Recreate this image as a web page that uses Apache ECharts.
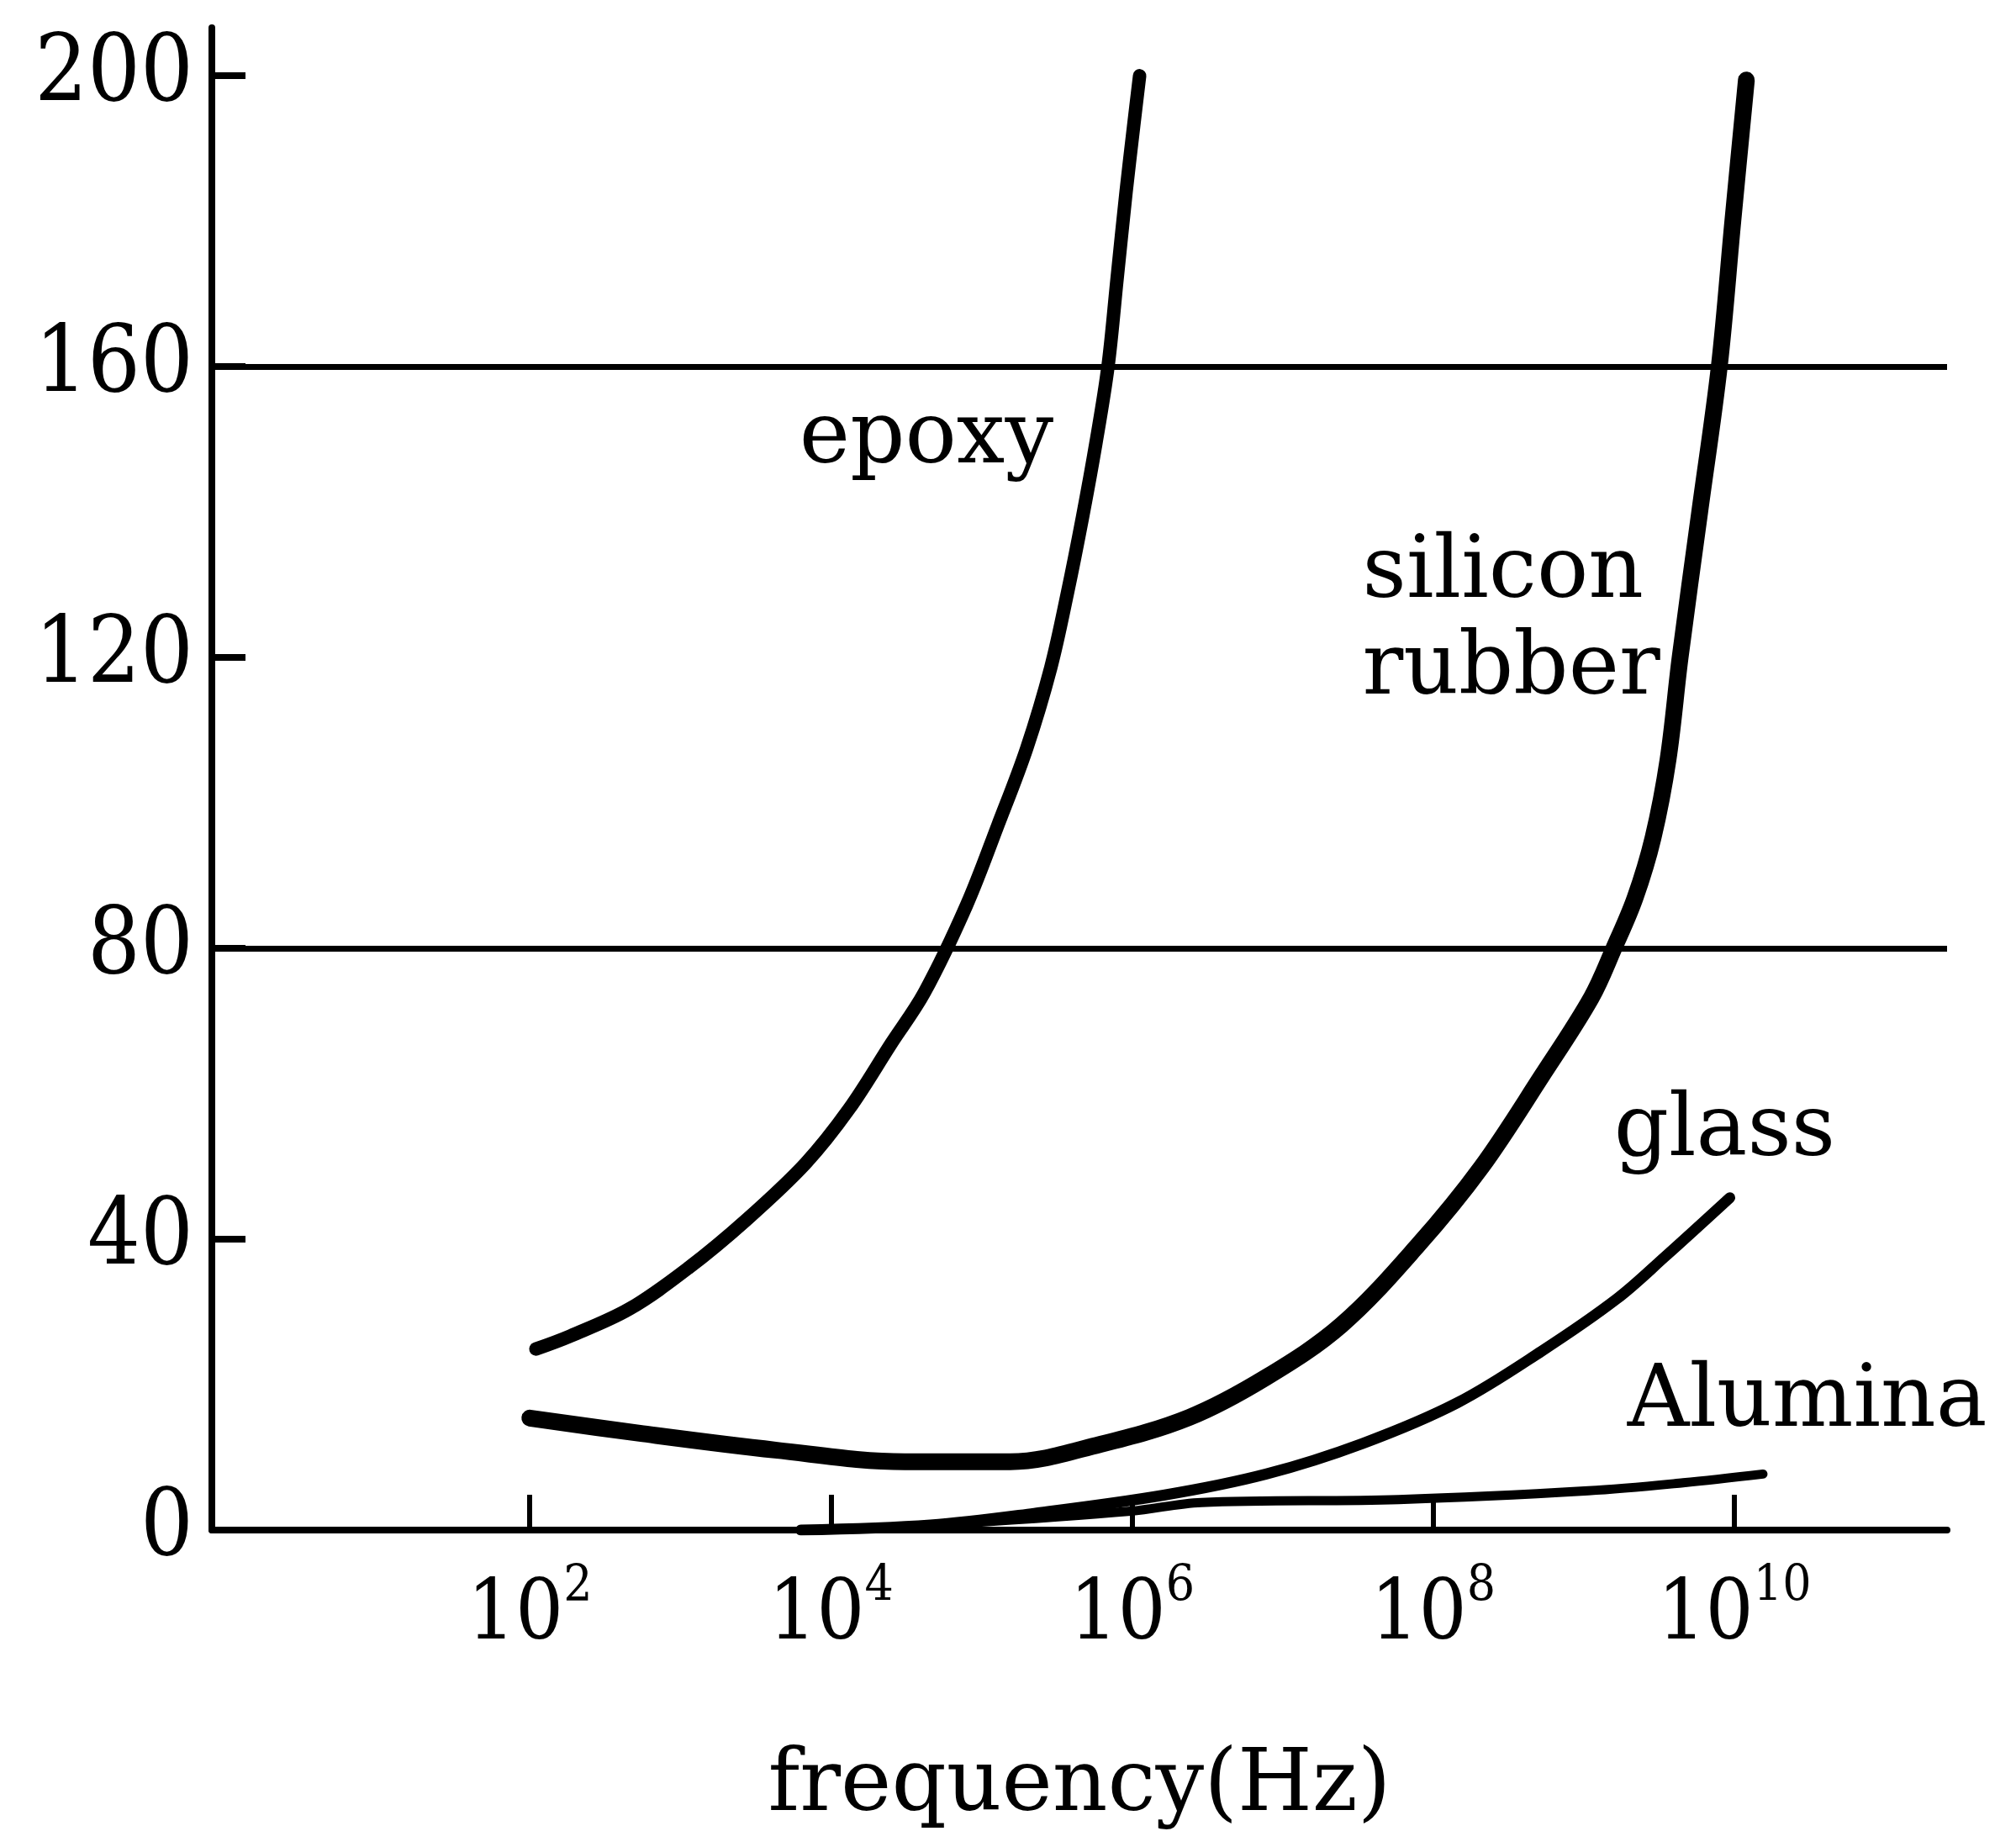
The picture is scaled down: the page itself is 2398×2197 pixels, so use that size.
<!DOCTYPE html>
<html>
<head>
<meta charset="utf-8">
<script src="https://cdn.jsdelivr.net/npm/echarts@6/dist/echarts.min.js"></script>
<style>
  html, body { margin: 0; padding: 0; background: #ffffff; }
  #chart { width: 2398px; height: 2197px; }
</style>
</head>
<body>
<div id="chart"></div>
<script>
// Curves: x is log10 of frequency (Hz), y is the plotted quantity.
const epoxyLogF = [2.04, 2.27, 2.66, 3.05, 3.44, 3.83, 4.12, 4.40, 4.62, 4.90, 5.11, 5.30, 5.46, 5.57, 5.67, 5.76, 5.84, 5.90, 5.96, 6.01, 6.05];
const epoxyValue = [24.9, 26.7, 30.4, 36.0, 42.7, 50.4, 57.9, 66.9, 73.9, 85.9, 97.0, 107.5, 118.6, 128.8, 139.2, 149.5, 160.0, 172.0, 184.0, 193.0, 200.0];

const siliconLogF = [2.00, 2.73, 3.63, 4.49, 5.19, 5.79, 6.38, 6.89, 7.39, 7.90, 8.32, 8.72, 9.05, 9.20, 9.34, 9.46, 9.56, 9.64, 9.77, 9.90, 9.99, 10.08];
const siliconValue = [15.4, 13.3, 11.0, 9.4, 9.4, 11.8, 15.5, 21.0, 28.2, 39.2, 49.9, 62.4, 73.2, 80.0, 86.9, 95.2, 106.0, 120.0, 140.0, 160.0, 180.0, 199.4];

const glassLogF = [3.80, 4.66, 5.35, 6.21, 6.89, 7.53, 8.16, 8.72, 9.22, 9.54, 9.97];
const glassValue = [0.0, 0.7, 2.3, 4.8, 7.7, 11.9, 17.5, 24.6, 31.8, 37.6, 45.7];

const aluminaLogF = [4.85, 5.99, 6.46, 7.77, 9.03, 9.66, 10.19];
const aluminaValue = [0.9, 2.6, 3.8, 4.2, 5.4, 6.5, 7.7];

// Axis ticks and reference lines
const xTickExponents = [2, 4, 6, 8, 10];
const yTickValues = [0, 40, 80, 120, 160, 200];
const gridLineValues = [80, 160];
const curveNames = ['epoxy', 'silicon\nrubber', 'glass', 'Alumina'];
const xAxisTitle = 'frequency(Hz)';

const TEXT_FONT = '"DejaVu Serif", "Liberation Serif", serif';
const NUM_FONT = '"DejaVu Serif Condensed", "DejaVu Serif", serif';
const INK = '#000000';

function zip(xs, ys) { return xs.map((x, i) => [x, ys[i]]); }

function curveLabel(text, coord) {
  return {
    silent: true,
    symbol: 'circle',
    symbolSize: 0,
    data: [{ coord: coord }],
    label: {
      show: true,
      position: 'right',
      distance: 0,
      formatter: text,
      color: INK,
      fontFamily: TEXT_FONT,
      fontSize: 102,
      lineHeight: 115
    }
  };
}

function curve(name, xs, ys, width, labelCoord) {
  return {
    name: name,
    type: 'line',
    data: zip(xs, ys),
    showSymbol: false,
    smooth: 0.35,
    lineStyle: { color: INK, width: width, cap: 'round', join: 'round' },
    markPoint: curveLabel(name, labelCoord),
    z: 3
  };
}

const chart = echarts.init(document.getElementById('chart'), null, { renderer: 'canvas' });

const series = [
  curve(curveNames[0], epoxyLogF, epoxyValue, 16, [3.79, 149.9]),
  curve(curveNames[1], siliconLogF, siliconValue, 20, [7.53, 124.7]),
  curve(curveNames[2], glassLogF, glassValue, 13, [9.20, 54.6]),
  curve(curveNames[3], aluminaLogF, aluminaValue, 11, [9.29, 17.4])
];

// horizontal reference lines across the plot
series[0].markLine = {
  silent: true,
  symbol: ['none', 'none'],
  label: { show: false },
  lineStyle: { color: INK, width: 7, type: 'solid' },
  data: gridLineValues.map(v => ({ yAxis: v }))
};

chart.setOption({
  animation: false,
  backgroundColor: '#ffffff',
  grid: { left: 252, right: 82, top: 33, bottom: 377, containLabel: false, outerBoundsMode: 'none' },
  xAxis: {
    type: 'value',
    min: -0.112,
    max: 11.413,
    name: xAxisTitle,
    nameLocation: 'middle',
    nameGap: 255,
    nameTextStyle: { color: INK, fontFamily: TEXT_FONT, fontSize: 102 },
    axisLine: { show: true, onZero: false, lineStyle: { color: INK, width: 8 } },
    axisTick: { show: true, inside: true, length: 42, customValues: xTickExponents, lineStyle: { color: INK, width: 6 } },
    axisLabel: {
      customValues: xTickExponents,
      margin: 38,
      color: INK,
      formatter: v => '{b|10}{s|' + v + '}',
      rich: {
        b: { color: INK, fontFamily: NUM_FONT, fontSize: 100, lineHeight: 130 },
        s: { color: INK, fontFamily: NUM_FONT, fontSize: 60, lineHeight: 48, verticalAlign: 'top' }
      }
    },
    splitLine: { show: false }
  },
  yAxis: {
    type: 'value',
    min: 0,
    max: 206.6,
    axisLine: { show: true, onZero: false, lineStyle: { color: INK, width: 8 } },
    axisTick: { show: true, inside: true, length: 40, customValues: yTickValues.filter(v => v > 0), lineStyle: { color: INK, width: 8 } },
    axisLabel: { customValues: yTickValues, margin: 22, color: INK, fontFamily: NUM_FONT, fontSize: 110 },
    splitLine: { show: false }
  },
  series: series
});
</script>
</body>
</html>
